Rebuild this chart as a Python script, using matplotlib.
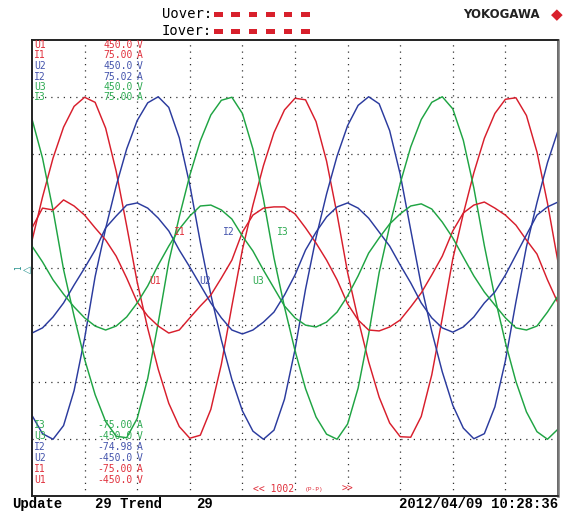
import matplotlib
matplotlib.use("Agg")
import matplotlib.pyplot as plt
from matplotlib.patches import Rectangle

# Tempo (ms), 5 ms/div, 10 div
time_ms = [0, 1, 2, 3, 4, 5, 6, 7, 8, 9, 10, 11, 12, 13, 14, 15, 16, 17, 18, 19,
           20, 21, 22, 23, 24, 25, 26, 27, 28, 29, 30, 31, 32, 33, 34, 35, 36, 37, 38, 39,
           40, 41, 42, 43, 44, 45, 46, 47, 48, 49, 50]

u1_v = [54, 140, 217, 278, 319, 337, 327, 276, 191, 83, -28, -119, -200, -267, -313, -336, -330,
        -279, -190, -75, 36, 124, 202, 267, 312, 335, 332, 289, 211, 106, -9, -101, -185, -255,
        -306, -333, -334, -293, -211, -99, 18, 107, 188, 256, 305, 333, 336, 301, 229, 128, 12]
u2_v = [-291, -327, -338, -311, -242, -139, -17, 78, 162, 235, 291, 326, 338, 317, 257, 164, 51,
        -53, -142, -220, -282, -322, -338, -320, -259, -161, -42, 60, 146, 221, 281, 321, 338, 324,
        271, 185, 75, -34, -125, -205, -271, -316, -337, -327, -274, -183, -67, 42, 129, 208, 271]
u3_v = [294, 217, 114, -3, -95, -180, -250, -303, -332, -335, -297, -218, -108, 12, 101, 183, 251,
        302, 331, 337, 305, 235, 136, 20, -77, -163, -238, -294, -328, -338, -308, -237, -131, -9,
        83, 167, 239, 293, 327, 338, 314, 252, 158, 44, -58, -147, -224, -284, -323, -338, -318]

# Correntes (A)
i1_a = [13.2, 19.7, 19.1, 22.4, 20.4, 17.4, 13.2, 9.2, 3.9, -3.3, -11.2, -15.8, -19.1, -21.4, -20.4,
        -16.4, -12.5, -8.9, -3.3, 2.6, 11.8, 17.4, 19.7, 20.1, 20.1, 17.8, 13.2, 8.2, 2.6, -3.9,
        -11.8, -17.1, -20.4, -20.7, -19.4, -17.1, -12.8, -8.2, -2.3, 3.9, 12.2, 18.1, 20.7, 21.7,
        19.7, 17.4, 14.1, 9.2, 4.6, -3.9, -11.5]
i2_a = [-21.4, -19.7, -16.1, -11.5, -5.6, 0.0, 5.9, 13.2, 17.1, 20.7, 21.4, 19.7, 16.4, 12.2, 5.9,
        0.3, -5.6, -11.5, -16.4, -20.4, -21.7, -20.4, -17.8, -14.5, -8.9, -2.3, 5.9, 11.8, 16.8,
        20.1, 21.4, 19.7, 16.4, 11.8, 7.2, 1.0, -4.9, -11.5, -16.4, -19.7, -21.1, -19.4, -16.1,
        -11.5, -7.9, -2.3, 4.3, 10.9, 17.4, 20.1, 21.7]
i3_a = [7.2, 2.0, -3.9, -8.6, -12.8, -16.4, -19.1, -20.4, -19.1, -16.1, -11.5, -5.9, 1.0, 7.2, 12.8,
        17.1, 20.4, 20.7, 19.1, 16.1, 10.5, 5.6, -0.7, -6.6, -12.5, -16.4, -18.8, -19.4, -17.8,
        -14.5, -9.2, -2.6, 4.9, 9.9, 14.5, 17.8, 20.4, 21.1, 19.4, 15.1, 9.9, 3.6, -2.6, -7.9,
        -12.2, -16.4, -19.7, -20.4, -19.1, -14.5, -9.2]

# Escalas / textos da tela
canais = ["U1", "I1", "U2", "I2", "U3", "I3"]
topo = ["450.0", "75.00", "450.0", "75.02", "450.0", "75.00"]
base = ["-450.0", "-75.00", "-450.0", "-74.98", "-450.0", "-75.00"]
unidades = ["V", "A", "V", "A", "V", "A"]
u_range = 450
i_range = 75

RED, BLUE, GREEN = "#d81e2c", "#2b3b9e", "#1fa443"
cores = [RED, RED, BLUE, BLUE, GREEN, GREEN]
TXT = {RED: "#e0303c", BLUE: "#4454ac", GREEN: "#2eaa52"}

W, H = 574, 515
fig = plt.figure(figsize=(W / 100, H / 100), dpi=100)
fig.patch.set_facecolor("white")


def fx(x):
    return x / W


def fy(y):
    return 1 - y / H


ax = fig.add_axes([fx(32), fy(496), (558 - 32) / W, (496 - 40) / H])
ax2 = ax.twinx()
ax.set_xlim(0, 50)
ax.set_ylim(-u_range, u_range)
ax2.set_ylim(-i_range, i_range)
ax.set_xticks(range(5, 50, 5))
ax.set_yticks([-337.5, -225, -112.5, 0, 112.5, 225, 337.5])
ax.grid(True, color="#333333", linestyle=(0, (1, 4)), linewidth=0.9)
ax.tick_params(length=0, labelleft=False, labelbottom=False)
ax2.set_yticks([])
ax2.tick_params(length=0)
for a in (ax, ax2):
    for s in a.spines.values():
        s.set_linewidth(1.2)
        s.set_color("#222222")
ax2.spines["right"].set_color("#777777")
ax2.spines["right"].set_linewidth(1.8)

lw = 1.05
ax.plot(time_ms, u1_v, color=RED, lw=lw)
ax2.plot(time_ms, i1_a, color=RED, lw=lw)
ax.plot(time_ms, u2_v, color=BLUE, lw=lw)
ax2.plot(time_ms, i2_a, color=BLUE, lw=lw)
ax.plot(time_ms, u3_v, color=GREEN, lw=lw)
ax2.plot(time_ms, i3_a, color=GREEN, lw=lw)

# rotulos das curvas
mono = "DejaVu Sans Mono"
for nome, x, y, c in [("I1", 180, 232, RED), ("I2", 229, 232, BLUE), ("I3", 283, 232, GREEN),
                      ("U1", 155, 281, RED), ("U2", 205, 281, BLUE), ("U3", 258, 281, GREEN)]:
    fig.text(fx(x), fy(y), nome, color=TXT[c], family=mono, fontsize=7, ha="center", va="center")

# escalas topo / base
for k in range(6):
    c = TXT[cores[k]]
    y = 45 + k * 10.5
    fig.text(fx(34), fy(y), canais[k], color=c, family=mono, fontsize=7, va="center")
    fig.text(fx(133), fy(y), topo[k], color=c, family=mono, fontsize=7, va="center", ha="right")
    fig.text(fx(137), fy(y), unidades[k], color=c, family=mono, fontsize=7, va="center")
for k in range(6):
    j = 5 - k
    c = TXT[cores[j]]
    y = 425 + k * 11
    fig.text(fx(34), fy(y), canais[j], color=c, family=mono, fontsize=7, va="center")
    fig.text(fx(133), fy(y), base[j], color=c, family=mono, fontsize=7, va="center", ha="right")
    fig.text(fx(137), fy(y), unidades[j], color=c, family=mono, fontsize=7, va="center")

# marcador de nivel
fig.text(fx(27), fy(270), "◁", color="#1f8f8a", family="DejaVu Sans", fontsize=7,
         ha="center", va="center")
fig.text(fx(19), fy(268), "1", color="#1f8f8a", family=mono, fontsize=5.5,
         ha="center", va="center", rotation=90)

# cabecalho
fig.text(fx(212), fy(14), "Uover:", family=mono, fontsize=10, ha="right", va="center")
fig.text(fx(212), fy(31), "Iover:", family=mono, fontsize=10, ha="right", va="center")
for yy in (12, 29):
    for k in range(6):
        fig.add_artist(Rectangle((fx(214 + k * 17.4), fy(yy + 5)), 8.5 / W, 5 / H,
                                 transform=fig.transFigure, color="#d8202c", lw=0))
fig.text(fx(540), fy(15), "YOKOGAWA", family="DejaVu Sans", fontweight="bold",
         fontsize=8.5, ha="right", va="center", color="#222222")
fig.text(fx(557), fy(15), "◆", color="#d8202c", fontsize=11, ha="center", va="center",
         family="DejaVu Sans")

# rodape
fig.text(fx(253), fy(489), "<< 1002", color="#e0303c", family=mono, fontsize=7, va="center")
fig.text(fx(305), fy(489), "(P-P)", color="#e0303c", family=mono, fontsize=4.5, va="center")
fig.text(fx(342), fy(489), ">>", color="#e0303c", family=mono, fontsize=7, va="center")
fig.text(fx(12), fy(504), "Update", family="Liberation Mono", fontweight="bold", fontsize=10,
         va="center")
fig.text(fx(95), fy(504), "29 Trend", family="Liberation Mono", fontweight="bold", fontsize=10,
         va="center")
fig.text(fx(196), fy(504), "29", family="Liberation Mono", fontweight="bold", fontsize=10,
         va="center")
fig.text(fx(558), fy(504), "2012/04/09 10:28:36", family="Liberation Mono", fontweight="bold",
         fontsize=10, va="center", ha="right")

fig.savefig("out.png", dpi=100)
